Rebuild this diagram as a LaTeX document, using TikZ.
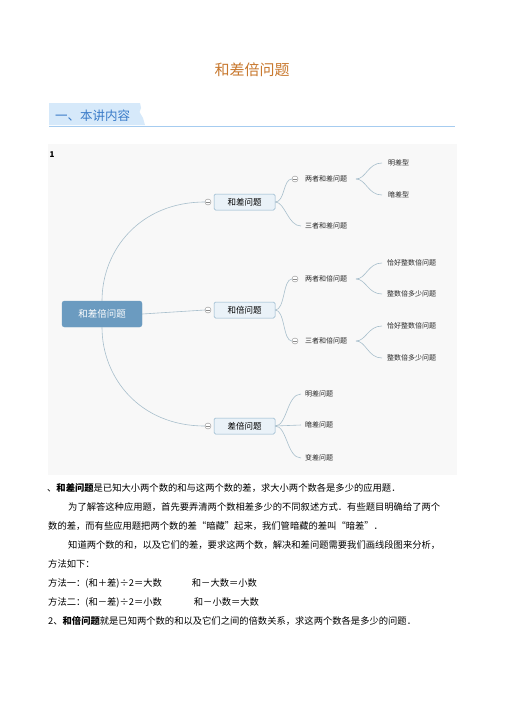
\documentclass[tikz,border=0pt]{standalone}
\usepackage{fontspec}
\setmainfont{Noto Sans CJK SC}
\definecolor{titlecol}{HTML}{C8782E}
\definecolor{tabfill}{HTML}{D6E9FA}
\definecolor{tabtext}{HTML}{3A7BC8}
\definecolor{tabline}{HTML}{A6CCF0}
\definecolor{panelcol}{HTML}{F8F8F8}
\definecolor{rootfill}{HTML}{6B9BC0}
\definecolor{l1fill}{HTML}{EAF2F8}
\definecolor{l1draw}{HTML}{8DB2C9}
\definecolor{edgecol}{HTML}{A8BFCC}
\definecolor{circcol}{HTML}{8A8A8A}
\tikzset{
  titlestyle/.style={font=\fontsize{15}{15}\selectfont, text=titlecol, inner sep=0pt},
  tabstyle/.style={font=\fontsize{12.5}{12.5}\selectfont, text=tabtext, inner sep=0pt, anchor=west},
  rootnode/.style={fill=rootfill, draw=rootfill, rounded corners=2.5pt, minimum width=80pt, minimum height=26pt, text=white, font=\fontsize{9.5}{9.5}\selectfont, inner sep=0pt},
  lonenode/.style={fill=l1fill, draw=l1draw, line width=0.5pt, rounded corners=1.5pt, minimum width=61pt, minimum height=16pt, font=\fontsize{8.5}{8.5}\selectfont, inner sep=0pt},
  leaf/.style={font=\fontsize{7}{7}\selectfont, anchor=west, inner sep=0pt, text=black!85},
  collapse/.style={circle, draw=circcol, line width=0.4pt, fill=white, minimum size=6pt, inner sep=0pt, path picture={\draw[circcol, line width=0.4pt] ([xshift=-2pt]path picture bounding box.center) -- ([xshift=2pt]path picture bounding box.center);}},
  edge/.style={draw=edgecol, line width=0.6pt},
  body/.style={font=\fontsize{9.3}{9.3}\selectfont, anchor=base west, inner sep=0pt}
}
\begin{document}
\begin{tikzpicture}[x=1pt,y=-1pt]
\useasboundingbox (0,0) rectangle (504,713);
\fill[white] (0,0) rectangle (504,713);
% title
\node[titlestyle] (title) at (252,70) {和差倍问题};
% section tab
\fill[tabfill] (49,103) -- (140,103) -- (141,108) -- (139.5,112) -- (143,118) -- (145,125) -- (49,125) -- cycle;
\draw[tabline, line width=0.8pt] (49,126) -- (455,126);
\node[tabstyle] (sec) at (55,115.5) {一、本讲内容};
% panel
\fill[panelcol] (48,144) rectangle (457,475);
\node[font=\bfseries\fontsize{8}{8}\selectfont, inner sep=0pt] (num) at (52,155) {1};
% root
\node[rootnode] (root) at (102,314) {和差倍问题};
% level 1
\node[lonenode] (A) at (244.5,202) {和差问题};
\node[lonenode] (B) at (244.5,310) {和倍问题};
\node[lonenode] (C) at (244.5,426) {差倍问题};
\node[collapse] (cA) at (208,202) {};
\node[collapse] (cB) at (208,310) {};
\node[collapse] (cC) at (208,426) {};
\path[edge] (root.north) .. controls (102,250) and (140,202) .. (cA.west);
\path[edge] (root.east) -- (cB.west);
\path[edge] (root.south) .. controls (102,378) and (140,426) .. (cC.west);
% level 2 under A
\node[collapse] (cA1) at (295,179) {};
\node[leaf] (A1) at (305,179) {两者和差问题};
\node[leaf] (A2) at (305,226) {三者和差问题};
\coordinate (A2in) at (301,226);
\path[edge] (A.east) .. controls (285,202) and (283,179) .. (cA1.west);
\path[edge] (A.east) .. controls (285,202) and (288,226) .. (A2in);
\node[leaf] (A11) at (388,163) {明差型};
\node[leaf] (A12) at (388,195) {暗差型};
\coordinate (A1out) at (356,179);
\coordinate (A11in) at (382,163);
\coordinate (A12in) at (382,195);
\path[edge] (A1out) .. controls (366,179) and (368,163) .. (A11in);
\path[edge] (A1out) .. controls (366,179) and (368,195) .. (A12in);
% level 2 under B
\node[collapse] (cB1) at (295,279) {};
\node[collapse] (cB2) at (295,341) {};
\node[leaf] (B1) at (305,279) {两者和倍问题};
\node[leaf] (B2) at (305,341) {三者和倍问题};
\path[edge] (B.east) .. controls (285,310) and (283,279) .. (cB1.west);
\path[edge] (B.east) .. controls (285,310) and (283,341) .. (cB2.west);
\coordinate (B1out) at (356,279);
\coordinate (B2out) at (356,341);
\node[leaf] (B11) at (387,263) {恰好整数倍问题};
\node[leaf] (B12) at (387,294) {整数倍多少问题};
\node[leaf] (B21) at (387,326) {恰好整数倍问题};
\node[leaf] (B22) at (387,358) {整数倍多少问题};
\coordinate (B11in) at (382,263);
\coordinate (B12in) at (382,294);
\coordinate (B21in) at (382,326);
\coordinate (B22in) at (382,358);
\path[edge] (B1out) .. controls (366,279) and (368,263) .. (B11in);
\path[edge] (B1out) .. controls (366,279) and (368,294) .. (B12in);
\path[edge] (B2out) .. controls (366,341) and (368,326) .. (B21in);
\path[edge] (B2out) .. controls (366,341) and (368,358) .. (B22in);
% level 2 under C
\node[leaf] (C1) at (305,394) {明差问题};
\node[leaf] (C2) at (305,425) {暗差问题};
\node[leaf] (C3) at (305,458) {变差问题};
\coordinate (C1in) at (301,394);
\coordinate (C2in) at (301,425);
\coordinate (C3in) at (301,458);
\path[edge] (C.east) .. controls (287,426) and (287,394) .. (C1in);
\path[edge] (C.east) -- (C2in);
\path[edge] (C.east) .. controls (287,426) and (287,458) .. (C3in);
% body text
\node[body] (t1) at (47,491.5) {、\textbf{和差问题}是已知大小两个数的和与这两个数的差，求大小两个数各是多少的应用题．};
\node[body] (t2) at (68,510.5) {为了解答这种应用题，首先要弄清两个数相差多少的不同叙述方式．有些题目明确给了两个};
\node[body] (t3) at (48,529) {数的差，而有些应用题把两个数的差“暗藏”起来，我们管暗藏的差叫“暗差”．};
\node[body] (t4) at (68,548.5) {知道两个数的和，以及它们的差，要求这两个数，解决和差问题需要我们画线段图来分析，};
\node[body] (t5) at (48,567.5) {方法如下：};
\node[body] (t6) at (48,586.5) {方法一：(和＋差)÷2＝大数\hspace{30pt}和－大数＝小数};
\node[body] (t7) at (48,605.5) {方法二：(和－差)÷2＝小数\hspace{32pt}和－小数＝大数};
\node[body] (t8) at (48,624.5) {2、\textbf{和倍问题}就是已知两个数的和以及它们之间的倍数关系，求这两个数各是多少的问题．};
\end{tikzpicture}
\end{document}
